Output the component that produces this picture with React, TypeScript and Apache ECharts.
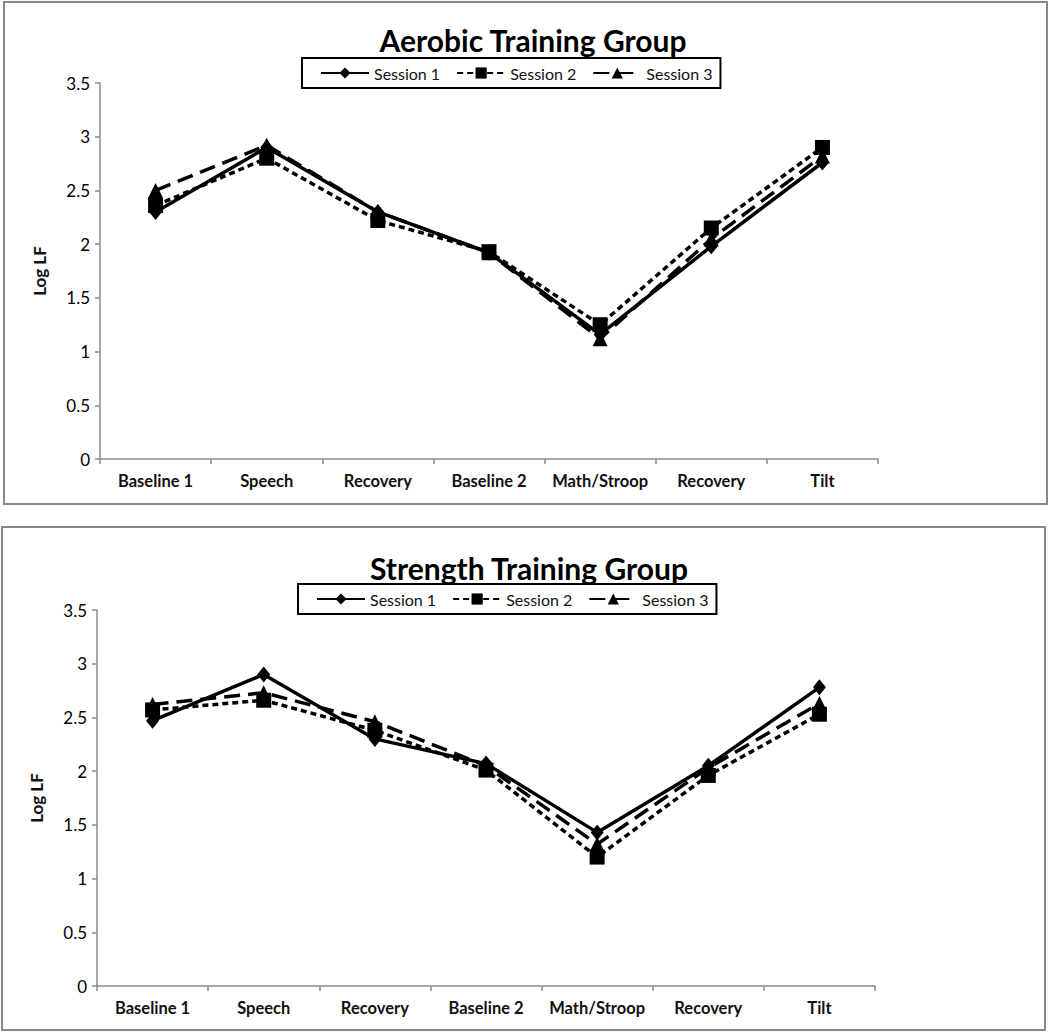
import React, { useEffect, useRef } from "react";
import * as echarts from "echarts";

const categories = ["Baseline 1", "Speech", "Recovery", "Baseline 2", "Math/Stroop", "Recovery", "Tilt"];
const yTicks = [0, 0.5, 1, 1.5, 2, 2.5, 3, 3.5];
const sessionNames = ["Session 1", "Session 2", "Session 3"];

const aerobicS1 = [2.3, 2.9, 2.3, 1.92, 1.16, 1.98, 2.76];
const aerobicS2 = [2.36, 2.8, 2.22, 1.93, 1.25, 2.15, 2.9];
const aerobicS3 = [2.5, 2.92, 2.3, 1.92, 1.12, 2.05, 2.82];

const strengthS1 = [2.47, 2.9, 2.3, 2.07, 1.43, 2.05, 2.78];
const strengthS2 = [2.57, 2.66, 2.38, 2.01, 1.2, 1.96, 2.53];
const strengthS3 = [2.62, 2.73, 2.46, 2.05, 1.32, 2.03, 2.63];

const FONT = "Lato, 'Open Sans', sans-serif";

export default function App() {
  const ref = useRef<HTMLDivElement>(null);
  useEffect(() => {
    if (!ref.current) return;
    const chart = echarts.init(ref.current, undefined, { renderer: "svg" });
    const axisGray = "#8a8a8a";
    const symbols = ["diamond", "rect", "triangle"];
    const symbolSizes: any[] = [[13, 16], 15, 15];
    const dashes: any[] = ["solid", [6, 4], [16, 8]];

    const grids = [
      { left: 100, right: 172, top: 83, height: 376 },
      { left: 97, right: 175, top: 610, height: 376 },
    ];

    const xAxes = grids.map((_, i) => ({
      type: "category",
      gridIndex: i,
      data: categories,
      boundaryGap: true,
      axisLine: { lineStyle: { color: axisGray, width: 1.5 } },
      axisTick: { show: true, interval: 0, length: 5, lineStyle: { color: axisGray, width: 1.5 } },
      axisLabel: { interval: 0, color: "#111", fontFamily: FONT, fontSize: 16.5, fontWeight: "bold", margin: 13 },
    }));

    const yAxes = grids.map((_, i) => ({
      type: "value",
      gridIndex: i,
      min: yTicks[0],
      max: yTicks[yTicks.length - 1],
      interval: 0.5,
      name: "Log LF",
      nameLocation: "middle",
      nameGap: 52,
      nameTextStyle: { color: "#111", fontFamily: FONT, fontSize: 17, fontWeight: "bold" },
      splitLine: { show: false },
      axisLine: { show: true, lineStyle: { color: axisGray, width: 1.5 } },
      axisTick: { show: true, length: 5, lineStyle: { color: axisGray, width: 1.5 } },
      axisLabel: { color: "#000", fontFamily: FONT, fontSize: 17, margin: 10 },
    }));

    const groups = [
      [aerobicS1, aerobicS2, aerobicS3],
      [strengthS1, strengthS2, strengthS3],
    ];
    const series: any[] = [];
    groups.forEach((g, gi) => {
      g.forEach((data, si) => {
        series.push({
          type: "line",
          name: sessionNames[si],
          xAxisIndex: gi,
          yAxisIndex: gi,
          data,
          symbol: symbols[si],
          symbolSize: symbolSizes[si],
          z: 10 - si,
          lineStyle: { color: "#000", width: 3.5, type: dashes[si] },
          itemStyle: { color: "#000" },
        });
      });
    });

    const legendBase = {
      data: sessionNames,
      orient: "horizontal",
      borderColor: "#000",
      borderWidth: 2,
      padding: [7, 8, 7, 18],
      itemWidth: 48,
      itemHeight: 14,
      itemGap: 16,
      textStyle: { color: "#111", fontFamily: FONT, fontSize: 16 },
      selectedMode: false,
    };

    chart.setOption({
      animation: false,
      backgroundColor: "#fff",
      title: [
        {
          text: "Aerobic Training Group",
          left: 528,
          top: 20,
          textAlign: "center",
          textStyle: { color: "#000", fontFamily: FONT, fontSize: 30, fontWeight: "bold" },
        },
        {
          text: "Strength Training Group",
          left: 524,
          top: 548,
          textAlign: "center",
          textStyle: { color: "#000", fontFamily: FONT, fontSize: 30, fontWeight: "bold" },
        },
      ],
      legend: [
        { ...legendBase, left: 302, top: 58 },
        { ...legendBase, left: 298, top: 584 },
      ],
      graphic: [
        { type: "rect", shape: { x: 4, y: 2, width: 1043, height: 502 }, style: { fill: "none", stroke: "#888", lineWidth: 2 }, silent: true },
        { type: "rect", shape: { x: 2, y: 527, width: 1043, height: 503 }, style: { fill: "none", stroke: "#888", lineWidth: 2 }, silent: true },
      ],
      grid: grids,
      xAxis: xAxes,
      yAxis: yAxes,
      series,
    });
    return () => chart.dispose();
  }, []);
  return <div ref={ref} style={{ position: "fixed", left: 0, top: 0, width: 1050, height: 1033, background: "#fff" }} />;
}
